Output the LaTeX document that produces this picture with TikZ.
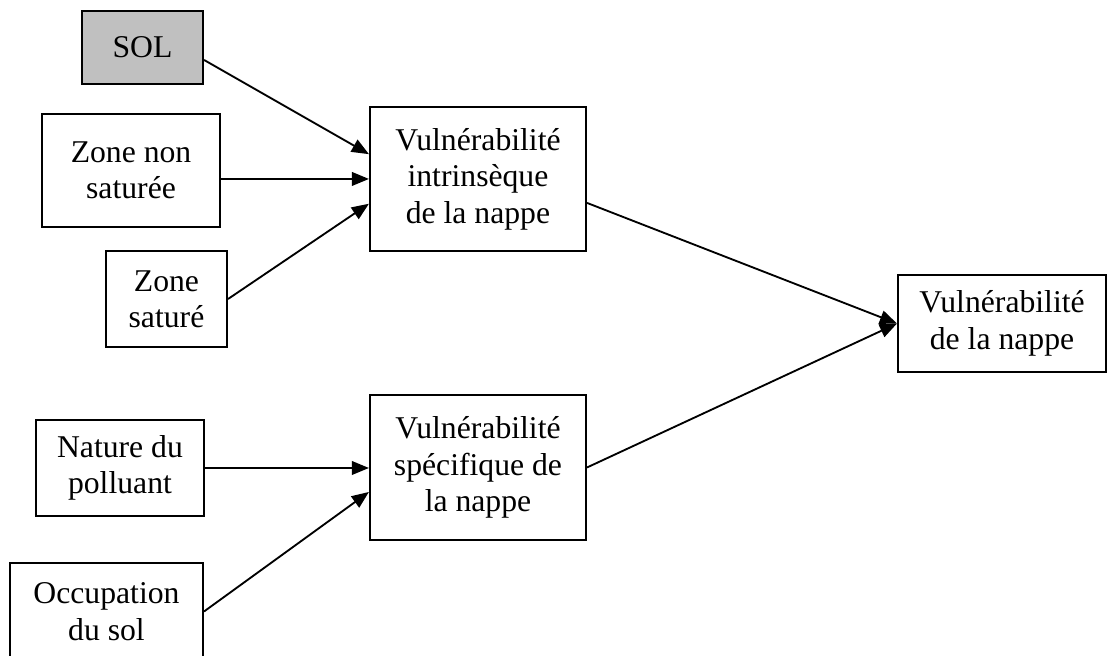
\documentclass[tikz,border=0pt]{standalone}
\usepackage{fontspec}
\setmainfont{Liberation Serif}
\usetikzlibrary{arrows.meta,positioning,calc}
\definecolor{solgray}{RGB}{192,192,192}

\begin{document}
\begin{tikzpicture}[
    box/.style={draw,line width=.8pt,align=center,inner sep=0pt,font=\fontsize{12}{13.8}\selectfont},
    flow/.style={line width=.7pt,-{Triangle[length=6.5pt,width=5.2pt]}}
  ]
    \useasboundingbox (0,0) rectangle (14.734,-8.731);

    % vulnerabilite intrinseque
    \node[box,fill=solgray,minimum width=1.61cm,minimum height=.972cm] (sol) at (1.897,-.632) {SOL};
    \node[box,minimum width=2.369cm,minimum height=1.504cm] (znon) at (1.744,-2.269) {Zone non\\saturée};
    \node[box,minimum width=1.61cm,minimum height=1.278cm] (zsat) at (2.216,-3.98) {Zone\\saturé};
    \node[box,minimum width=2.875cm,minimum height=1.917cm] (intr) at (6.362,-2.382) {Vulnérabilité\\intrinsèque\\de la nappe};

    % vulnerabilite specifique
    \node[box,minimum width=2.236cm,minimum height=1.278cm] (nat) at (1.597,-6.229) {Nature du\\polluant};
    \node[box,minimum width=2.569cm,minimum height=1.291cm] (occ) at (1.417,-8.139) {Occupation\\du sol};
    \node[box,minimum width=2.875cm,minimum height=1.93cm] (spec) at (6.362,-6.222) {Vulnérabilité\\spécifique de\\la nappe};

    \node[box,minimum width=2.768cm,minimum height=1.291cm] (vuln) at (13.337,-4.306) {Vulnérabilité\\de la nappe};

    \draw[flow] ([yshift=-.166cm]sol.east) -- ([yshift=.33cm]intr.west);
    \draw[flow] (znon.east |- intr.west) -- (intr.west);
    \draw[flow] (zsat.east) -- ([yshift=-.33cm]intr.west);

    \draw[flow] (nat.east) -- (nat.east -| spec.west);
    \draw[flow] (occ.east) -- ([yshift=-.326cm]spec.west);

    \draw[flow] ([yshift=-.319cm]intr.east) -- (vuln.west);
    \draw[flow] (spec.east) -- (vuln.west);
  \end{tikzpicture}
\end{document}
